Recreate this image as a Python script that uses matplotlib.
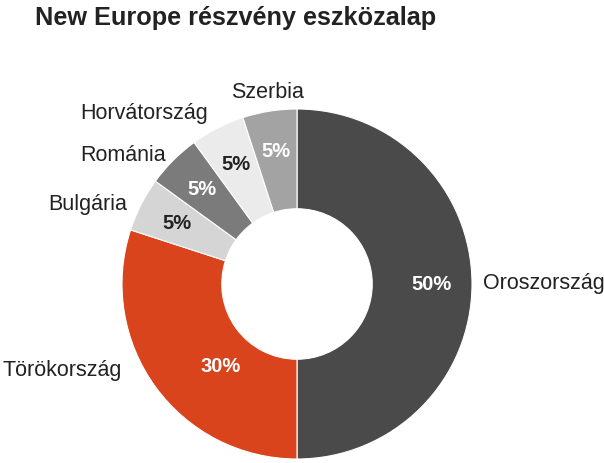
import numpy as np
import matplotlib.pyplot as plt

# Adatok
countries = ["Oroszország", "Törökország", "Bulgária", "Románia", "Horvátország", "Szerbia"]
shares = [50, 30, 5, 5, 5, 5]
colors = ["#4b4a4b", "#d9441c", "#d5d5d5", "#7b7b7b", "#ebebeb", "#a3a3a3"]
pct_colors = ["white", "white", "#222222", "white", "#222222", "white"]

# label anchor positions (x, y, ha) in pie radius units
label_pos = [(1.06, 0.01, "left"), (-1.0, -0.49, "right"), (-0.97, 0.46, "right"),
             (-0.75, 0.74, "right"), (-0.51, 0.98, "right"), (-0.17, 1.10, "center")]

plt.rcParams["font.family"] = ["Liberation Sans", "DejaVu Sans"]

fig = plt.figure(figsize=(6.04, 4.64), dpi=100)
fig.text(35 / 604, 1 - 25 / 464, "New Europe részvény eszközalap",
         fontsize=18.2, fontweight="bold", color="#222222", va="baseline")

ax = fig.add_axes([(297 - 175) / 604, (464 - 285 - 175) / 464, 350 / 604, 350 / 464])
wedges, texts = ax.pie(shares, colors=colors, startangle=90, counterclock=False,
                       radius=1, wedgeprops=dict(width=0.57, edgecolor="white", linewidth=0.8))

for w, share, c in zip(wedges, shares, pct_colors):
    ang = np.deg2rad((w.theta1 + w.theta2) / 2)
    r = 0.77
    if share == 30:
        r = 0.64
        ang = np.deg2rad(227)
    ax.text(r * np.cos(ang), r * np.sin(ang), f"{share}%", ha="center", va="center",
            fontsize=14.5, fontweight="bold", color=c)

for name, (x, y, ha) in zip(countries, label_pos):
    ax.text(x, y, name, ha=ha, va="center", fontsize=15.5, color="#222222")

ax.set_xlim(-1, 1)
ax.set_ylim(-1, 1)
ax.set_aspect("equal")
ax.axis("off")

fig.savefig("out.png", dpi=100)
